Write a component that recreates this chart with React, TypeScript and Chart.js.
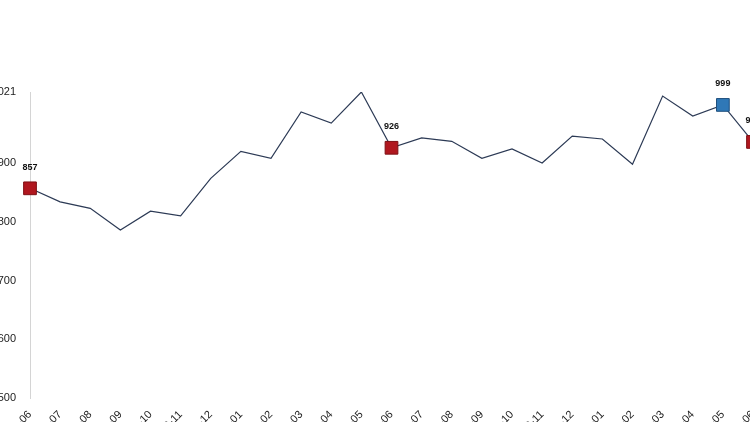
import React, { useEffect, useRef } from "react";
import { Chart, registerables } from "chart.js";

Chart.register(...registerables);

const months: string[] = [
  "2019-06", "2019-07", "2019-08", "2019-09", "2019-10", "2019-11", "2019-12",
  "2020-01", "2020-02", "2020-03", "2020-04", "2020-05", "2020-06", "2020-07",
  "2020-08", "2020-09", "2020-10", "2020-11", "2020-12", "2021-01", "2021-02",
  "2021-03", "2021-04", "2021-05", "2021-06",
];

const values: number[] = [
  857, 834, 823, 786, 818, 810, 874, 920, 908, 987, 968, 1021, 926, 943,
  937, 908, 924, 900, 946, 941, 898, 1014, 980, 999, 936,
];

const yTicks: number[] = [500, 600, 700, 800, 900, 1021];

// indices with a marker + label, and their colour
const markedRed: number[] = [0, 12, 24];
const markedBlue: number[] = [23];

const RED = "#b0171f";
const RED_BORDER = "#7d0f14";
const BLUE = "#2f78b7";
const BLUE_BORDER = "#1f4f7d";
const LINE = "#2c3a55";

export default function App() {
  const ref = useRef<HTMLCanvasElement | null>(null);

  useEffect(() => {
    if (!ref.current) return;
    const isMarked = (i: number) => markedRed.includes(i) || markedBlue.includes(i);
    const fillFor = (i: number) => (markedBlue.includes(i) ? BLUE : RED);
    const borderFor = (i: number) => (markedBlue.includes(i) ? BLUE_BORDER : RED_BORDER);

    const labelPlugin = {
      id: "pointLabels",
      afterDatasetsDraw(chart: any) {
        const meta = chart.getDatasetMeta(0);
        const ctx = chart.ctx;
        ctx.save();
        ctx.font = "bold 9px Arial, 'Liberation Sans', sans-serif";
        ctx.fillStyle = "#111";
        ctx.textAlign = "center";
        ctx.textBaseline = "middle";
        meta.data.forEach((pt: any, i: number) => {
          if (!isMarked(i)) return;
          ctx.fillText(String(values[i]), pt.x, pt.y - 21);
        });
        ctx.restore();
      },
    };

    const chart = new Chart(ref.current, {
      type: "line",
      data: {
        labels: months,
        datasets: [
          {
            data: values,
            borderColor: LINE,
            borderWidth: 1.2,
            tension: 0,
            pointStyle: "rect",
            pointRadius: (c: any) => (isMarked(c.dataIndex) ? 9 : 0),
            pointHoverRadius: 0,
            pointBackgroundColor: (c: any) => fillFor(c.dataIndex),
            pointBorderColor: (c: any) => borderFor(c.dataIndex),
            pointBorderWidth: 1,
          },
        ],
      },
      options: {
        animation: false,
        responsive: false,
        devicePixelRatio: 1,
        layout: { padding: { top: 92, right: 37, left: 0, bottom: 0 } },
        plugins: { legend: { display: false }, tooltip: { enabled: false } },
        scales: {
          x: {
            offset: false,
            grid: { display: false, drawTicks: false },
            border: { display: false },
            ticks: {
              autoSkip: false,
              minRotation: 45,
              maxRotation: 45,
              padding: 10,
              color: "#222",
              font: { family: "Arial, 'Liberation Sans', sans-serif", size: 11 },
            },
            afterFit: (s: any) => {
              s.height = 72;
            },
          },
          y: {
            min: 500,
            max: 1021,
            grid: { display: false, drawTicks: false },
            border: { display: true, color: "#d4d4d4", width: 1 },
            afterBuildTicks: (s: any) => {
              s.ticks = yTicks.map((v) => ({ value: v }));
            },
            ticks: {
              padding: 14,
              color: "#222",
              font: { family: "Arial, 'Liberation Sans', sans-serif", size: 11 },
              callback: (v: any) => String(v),
            },
            afterFit: (s: any) => {
              s.width = 50;
            },
          },
        },
      },
      plugins: [labelPlugin],
    } as any);
    return () => chart.destroy();
  }, []);

  return (
    <div
      style={{
        position: "fixed",
        left: 0,
        top: 0,
        width: 750,
        height: 422,
        overflow: "hidden",
        background: "#fff",
      }}
    >
      <canvas
        ref={ref}
        width={810}
        height={470}
        style={{ position: "absolute", left: -20, top: 0, width: 810, height: 470 }}
      />
    </div>
  );
}
